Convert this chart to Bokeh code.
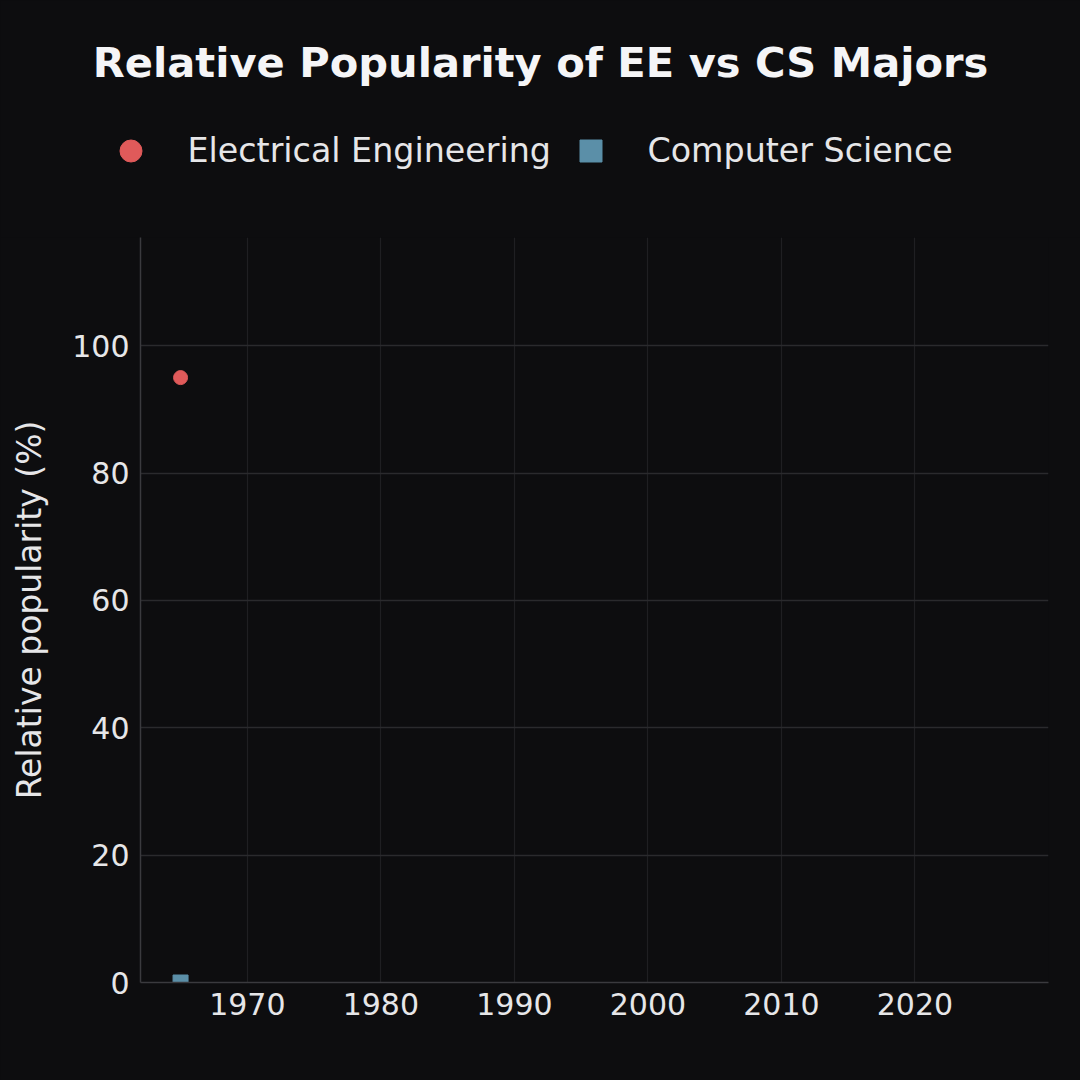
from bokeh.plotting import figure
from bokeh.models import Range1d, Legend, LegendItem, Label, FixedTicker
from bokeh.layouts import column
from bokeh.embed import file_html
from bokeh.resources import INLINE

# data
ee_years = [1965]
ee_values = [95]
cs_years = [1965]
cs_values = [0]
x_ticks = [1970, 1980, 1990, 2000, 2010, 2020]
y_ticks = [0, 20, 40, 60, 80, 100]
series_labels = ["Electrical Engineering", "Computer Science"]
series_colors = ["#e05a5a", "#5b8fa8"]
title_text = "Relative Popularity of EE vs CS Majors"

BG = "#0d0d0f"
FONT = "DejaVu Sans"
TXT = "#e6e6e8"

# header figure: title + legend
h = figure(width=1080, height=237, output_backend="svg", toolbar_location=None,
           x_range=Range1d(0, 1), y_range=Range1d(0, 1),
           x_axis_type=None, y_axis_type=None,
           min_border_left=0, min_border_right=0, min_border_top=0, min_border_bottom=0)
h.frame_align = False
h.background_fill_color = BG
h.border_fill_color = BG
h.outline_line_color = None
h.xgrid.visible = False
h.ygrid.visible = False

# legend proxies (their data lie outside the header's ranges, so only the legend shows them)
d_ee = h.scatter(ee_years, ee_values, marker="circle", size=22, color=series_colors[0])
d_cs = h.scatter(cs_years, cs_values, marker="square", size=22, color=series_colors[1])

def make_legend(label, renderer, x, y):
    lg = Legend(items=[LegendItem(label=label, renderers=[renderer])],
                location=(x, y), orientation="horizontal",
                glyph_width=55, glyph_height=55, label_standoff=30,
                padding=0, margin=0, spacing=0,
                background_fill_alpha=0, border_line_color=None,
                label_text_font=FONT, label_text_font_size="33.3px",
                label_text_color=TXT, label_text_baseline="middle",
                label_height=55)
    h.add_layout(lg)

make_legend(series_labels[0], d_ee, 102.5, 59.5)
make_legend(series_labels[1], d_cs, 562.5, 59.5)

h.add_layout(Label(x=540, y=175, x_units="screen", y_units="screen",
                   text=title_text,
                   text_font=FONT, text_font_style="bold", text_font_size="41.6px",
                   text_color="#f5f5f7", text_align="center", text_baseline="middle"))

# main figure
p = figure(width=1080, height=843, output_backend="svg", toolbar_location=None,
           x_range=Range1d(1962, 2030), y_range=Range1d(0, 117),
           min_border_left=140, min_border_right=32, min_border_top=0, min_border_bottom=98)
p.frame_align = False
p.background_fill_color = BG
p.border_fill_color = BG
p.outline_line_color = None

p.scatter(ee_years, ee_values, marker="circle", size=14, color=series_colors[0])
p.scatter(cs_years, cs_values, marker="square", size=15, color=series_colors[1])

p.xaxis.ticker = FixedTicker(ticks=x_ticks)
p.yaxis.ticker = FixedTicker(ticks=y_ticks)
for ax in (p.xaxis, p.yaxis):
    ax.axis_line_color = "#3a3a3e"
    ax.axis_line_width = 1.5
    ax.major_tick_line_color = None
    ax.minor_tick_line_color = None
    ax.major_tick_out = 0
    ax.major_tick_in = 0
    ax.major_label_text_font = FONT
    ax.major_label_text_font_size = "30px"
    ax.major_label_text_color = TXT
    ax.axis_label_text_font = FONT
    ax.axis_label_text_font_style = "normal"
    ax.axis_label_text_color = TXT
p.xaxis.major_label_standoff = 10
p.yaxis.major_label_standoff = 11
p.yaxis.axis_label = "Relative popularity (%)"
p.yaxis.axis_label_text_font_size = "33px"
p.yaxis.axis_label_standoff = 20

p.xgrid.grid_line_color = "#1f1f22"
p.xgrid.grid_line_width = 1.2
p.ygrid.grid_line_color = "#2a2a2d"
p.ygrid.grid_line_width = 1.5

layout = column(h, p, spacing=0)
html = file_html(layout, INLINE)
html = html.replace("</head>", "<style>html,body{margin:0;padding:0;background:#0d0d0f;}</style></head>")
open("out.html", "w").write(html)
